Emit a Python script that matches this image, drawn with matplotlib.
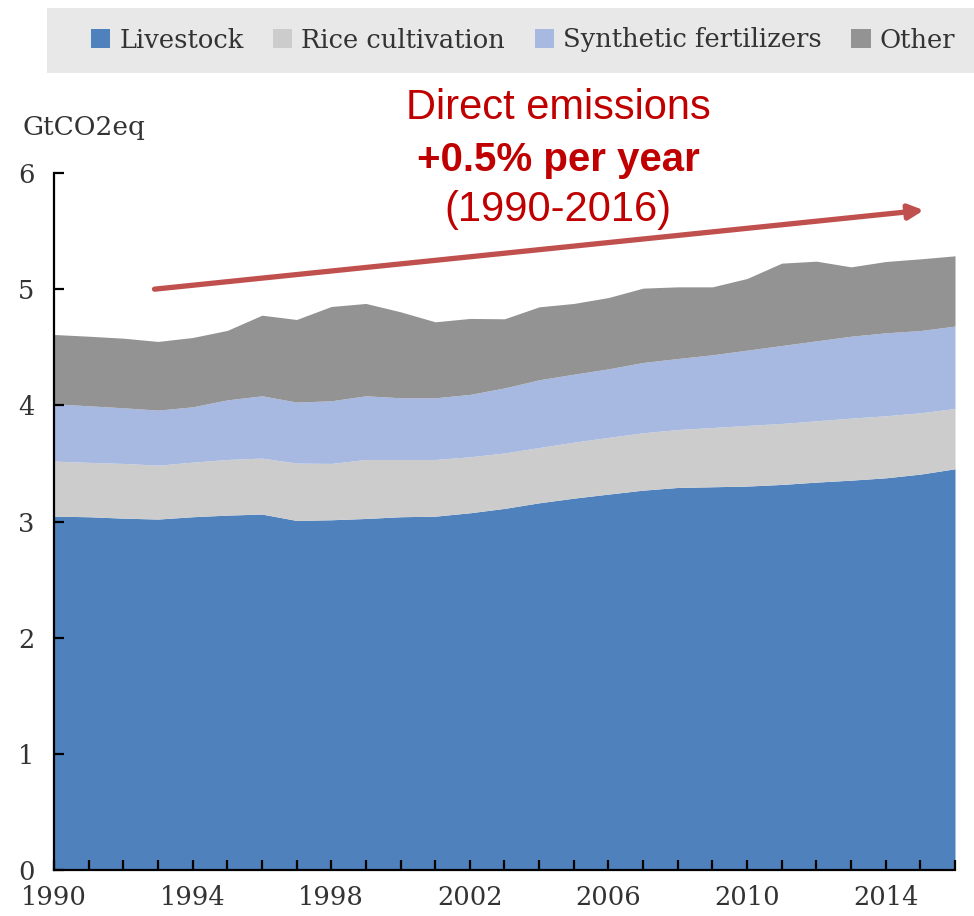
import matplotlib
matplotlib.use("Agg")
import matplotlib.pyplot as plt
from matplotlib.patches import Rectangle, Patch
import numpy as np

# Agricultural direct emissions by source, GtCO2eq (stacked)
years = list(range(1990, 2017))
livestock = [3.046, 3.041, 3.029, 3.021, 3.041, 3.055, 3.064, 3.009, 3.015, 3.026,
             3.041, 3.046, 3.075, 3.113, 3.161, 3.201, 3.236, 3.270, 3.293, 3.299,
             3.305, 3.319, 3.339, 3.356, 3.376, 3.408, 3.454]
rice_top = [3.520, 3.509, 3.500, 3.485, 3.511, 3.534, 3.546, 3.503, 3.500, 3.534,
            3.534, 3.534, 3.557, 3.590, 3.637, 3.683, 3.724, 3.764, 3.792, 3.809,
            3.827, 3.844, 3.867, 3.890, 3.910, 3.936, 3.973]
fert_top = [4.013, 3.996, 3.979, 3.959, 3.987, 4.047, 4.082, 4.028, 4.039, 4.082,
            4.065, 4.065, 4.094, 4.150, 4.220, 4.268, 4.314, 4.369, 4.403, 4.435,
            4.475, 4.515, 4.555, 4.595, 4.624, 4.644, 4.682]
total = [4.610, 4.595, 4.578, 4.550, 4.584, 4.645, 4.776, 4.739, 4.851, 4.877,
         4.805, 4.719, 4.748, 4.745, 4.848, 4.877, 4.928, 5.009, 5.020, 5.020,
         5.092, 5.224, 5.241, 5.192, 5.238, 5.261, 5.287]

series_names = ["Livestock", "Rice cultivation", "Synthetic fertilizers", "Other"]
colors = ["#4F81BD", "#CCCCCC", "#A7B9E1", "#939393"]

yticks = [0, 1, 2, 3, 4, 5, 6]
xlabel_years = [1990, 1994, 1998, 2002, 2006, 2010, 2014]

trend_start = (1992.9, 5.0)
trend_end = (2015.1, 5.68)

serif = "DejaVu Serif"
sans = "Liberation Sans"

fig = plt.figure(figsize=(9.74, 9.16), dpi=100)
ax = fig.add_axes([54 / 974, 46 / 916, 901 / 974, 697 / 916])

yrs = np.array(years, dtype=float)
layers = [np.zeros(len(years)), np.array(livestock), np.array(rice_top),
          np.array(fert_top), np.array(total)]
for i, c in enumerate(colors):
    ax.fill_between(yrs, layers[i], layers[i + 1], color=c, lw=0, zorder=1)

ax.set_xlim(1990, 2016)
ax.set_ylim(0, 6)
for s in ("top", "right"):
    ax.spines[s].set_visible(False)
for s in ("left", "bottom"):
    ax.spines[s].set_linewidth(1.6)
    ax.spines[s].set_color("black")
    ax.spines[s].set_zorder(3)

ax.set_yticks(yticks)
ax.set_yticklabels([str(v) for v in yticks], fontfamily=serif, fontsize=18.5, color="#333333")
ax.set_xticks(years)
ax.set_xticklabels([str(y) if y in xlabel_years else "" for y in years],
                   fontfamily=serif, fontsize=18.5, color="#333333")
ax.tick_params(axis="both", direction="in", length=7, width=1.6, color="black")
ax.tick_params(axis="x", pad=11)
ax.tick_params(axis="y", pad=14)

# Trend arrow and annotation
ax.annotate("", xy=trend_end, xytext=trend_start,
            arrowprops=dict(arrowstyle="-|>", color="#C0504D", lw=3.8,
                            mutation_scale=22, shrinkA=0, shrinkB=0),
            zorder=4)
fig.text(558 / 974, 1 - 108 / 916, "Direct emissions", ha="center", va="center",
         fontfamily=sans, fontsize=30, color="#C00000")
fig.text(558 / 974, 1 - 160 / 916, "+0.5% per year", ha="center", va="center",
         fontfamily=sans, fontsize=29, fontweight="bold", color="#C00000")
fig.text(558 / 974, 1 - 210 / 916, "(1990-2016)", ha="center", va="center",
         fontfamily=sans, fontsize=30, color="#C00000")

fig.text(22 / 974, 1 - 128 / 916, "GtCO2eq", ha="left", va="center",
         fontfamily=serif, fontsize=19, color="#333333")

# Legend band
fig.patches.append(Rectangle((47 / 974, 1 - 73 / 916), 927 / 974, 65 / 916,
                             transform=fig.transFigure, facecolor="#E8E8E8",
                             edgecolor="none", zorder=0))
handles = [Patch(facecolor=c, edgecolor="none", label=n) for c, n in zip(colors, series_names)]
fig.legend(handles=handles, loc="center", bbox_to_anchor=(523 / 974, 1 - 40 / 916),
           ncol=4, frameon=False, prop={"family": serif, "size": 18.5},
           handlelength=0.75, handleheight=0.75, handletextpad=0.35,
           columnspacing=1.15, labelcolor="#333333")

fig.savefig("out.png", dpi=100)
